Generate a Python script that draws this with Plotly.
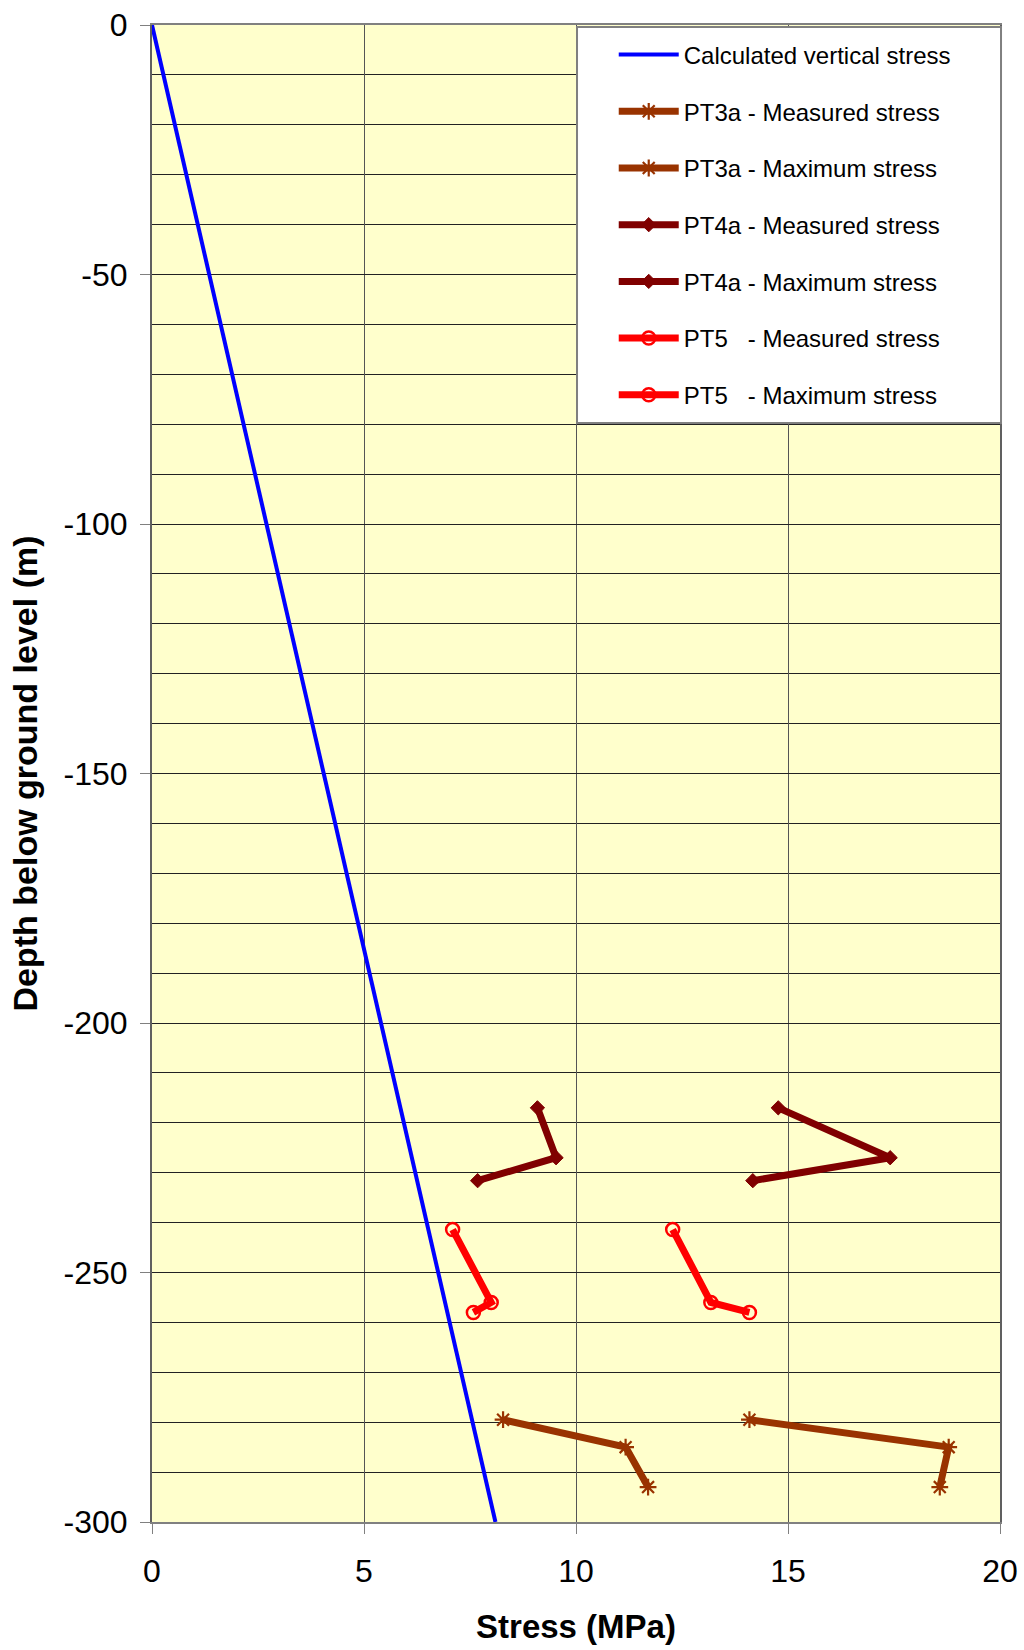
import plotly.graph_objects as go

# Calculated overburden (vertical) stress line
calc_depth = [0, -300]
calc_stress = [0, 8.1]

# PT3a test: depths and stresses (MPa)
pt3a_depth = [-279.5, -285, -293]
pt3a_measured = [8.28, 11.17, 11.70]
pt3a_maximum = [14.09, 18.79, 18.58]

# PT4a test
pt4a_depth = [-217, -227, -231.6]
pt4a_measured = [9.09, 9.53, 7.68]
pt4a_maximum = [14.77, 17.41, 14.17]

# PT5 test
pt5_depth = [-241.4, -256, -258]
pt5_measured = [7.09, 8.00, 7.58]
pt5_maximum = [12.28, 13.18, 14.09]

x_ticks = [0, 5, 10, 15, 20]
y_ticks = [0, -50, -100, -150, -200, -250, -300]

FONT = "Liberation Sans, Arial, sans-serif"

fig = go.Figure()

fig.add_trace(go.Scatter(
    x=calc_stress, y=calc_depth, mode="lines",
    name="Calculated vertical stress",
    line=dict(color="#0000FF", width=4),
    legendgroup="calc",
))

series = [
    ("PT3a - Measured stress", pt3a_measured, pt3a_depth, "#993300",
     dict(symbol="asterisk-open", size=14, line=dict(color="#800000", width=2.2))),
    ("PT3a - Maximum stress", pt3a_maximum, pt3a_depth, "#993300",
     dict(symbol="asterisk-open", size=14, line=dict(color="#993300", width=2.2))),
    ("PT4a - Measured stress", pt4a_measured, pt4a_depth, "#800000",
     dict(symbol="diamond", size=11, color="#800000", line=dict(color="#800000", width=1))),
    ("PT4a - Maximum stress", pt4a_maximum, pt4a_depth, "#800000",
     dict(symbol="diamond", size=11, color="#800000", line=dict(color="#800000", width=1))),
    ("PT5\u00a0\u00a0\u00a0- Measured stress", pt5_measured, pt5_depth, "#FF0000",
     dict(symbol="circle-open", size=13, color="#FF0000", line=dict(width=2.5))),
    ("PT5\u00a0\u00a0\u00a0- Maximum stress", pt5_maximum, pt5_depth, "#FF0000",
     dict(symbol="circle-open", size=13, color="#FF0000", line=dict(width=2.5))),
]

for i, (name, xs, ys, color, marker) in enumerate(series):
    fig.add_trace(go.Scatter(
        x=xs, y=ys, mode="lines+markers", name=name,
        line=dict(color=color, width=7),
        marker=marker,
        legendgroup=f"g{i}",
    ))

# white legend panel with grey frame behind the legend entries
fig.add_shape(
    type="rect", xref="paper", yref="paper",
    x0=0.5012, x1=1.0012, y0=0.7341, y1=0.9987,
    fillcolor="white", line=dict(color="#808080", width=2),
    layer="above",
)

fig.update_layout(
    width=1024, height=1650,
    margin=dict(l=152, r=24, t=25, b=128, autoexpand=False),
    paper_bgcolor="white",
    plot_bgcolor="#FFFFCC",
    font=dict(family=FONT, color="black"),
    showlegend=True,
    legend=dict(
        x=0.5445, y=0.995, xanchor="left", yanchor="top",
        bgcolor="rgba(0,0,0,0)", borderwidth=0,
        font=dict(size=24, family=FONT),
        tracegroupgap=22.5,
        itemwidth=60,
    ),
    xaxis=dict(
        range=[0, 20], tickvals=x_ticks, ticktext=[str(v) for v in x_ticks],
        showgrid=True, gridcolor="#555555", gridwidth=1,
        showline=True, linecolor="#808080", linewidth=2, mirror=True,
        ticks="outside", ticklen=10, tickcolor="#808080", tickwidth=1,
        tickfont=dict(size=32), ticklabelstandoff=10,
        zeroline=False, automargin=False,
        title=dict(text="<b>Stress (MPa)</b>", font=dict(size=33), standoff=26),
    ),
    yaxis=dict(
        range=[-300, 0], tickvals=y_ticks, ticktext=[str(v) for v in y_ticks],
        showgrid=True, gridcolor="#222222", gridwidth=1,
        minor=dict(dtick=10, tick0=0, showgrid=True, gridcolor="#222222", gridwidth=1, ticks=""),
        showline=True, linecolor="#606060", linewidth=2, mirror=True,
        ticks="outside", ticklen=10, tickcolor="#808080", tickwidth=1,
        tickfont=dict(size=32), ticklabelstandoff=6,
        zeroline=False, automargin=False,
        title=dict(text="<b>Depth below ground level (m)</b>", font=dict(size=34), standoff=16),
    ),
)

fig.write_html("out.html")
